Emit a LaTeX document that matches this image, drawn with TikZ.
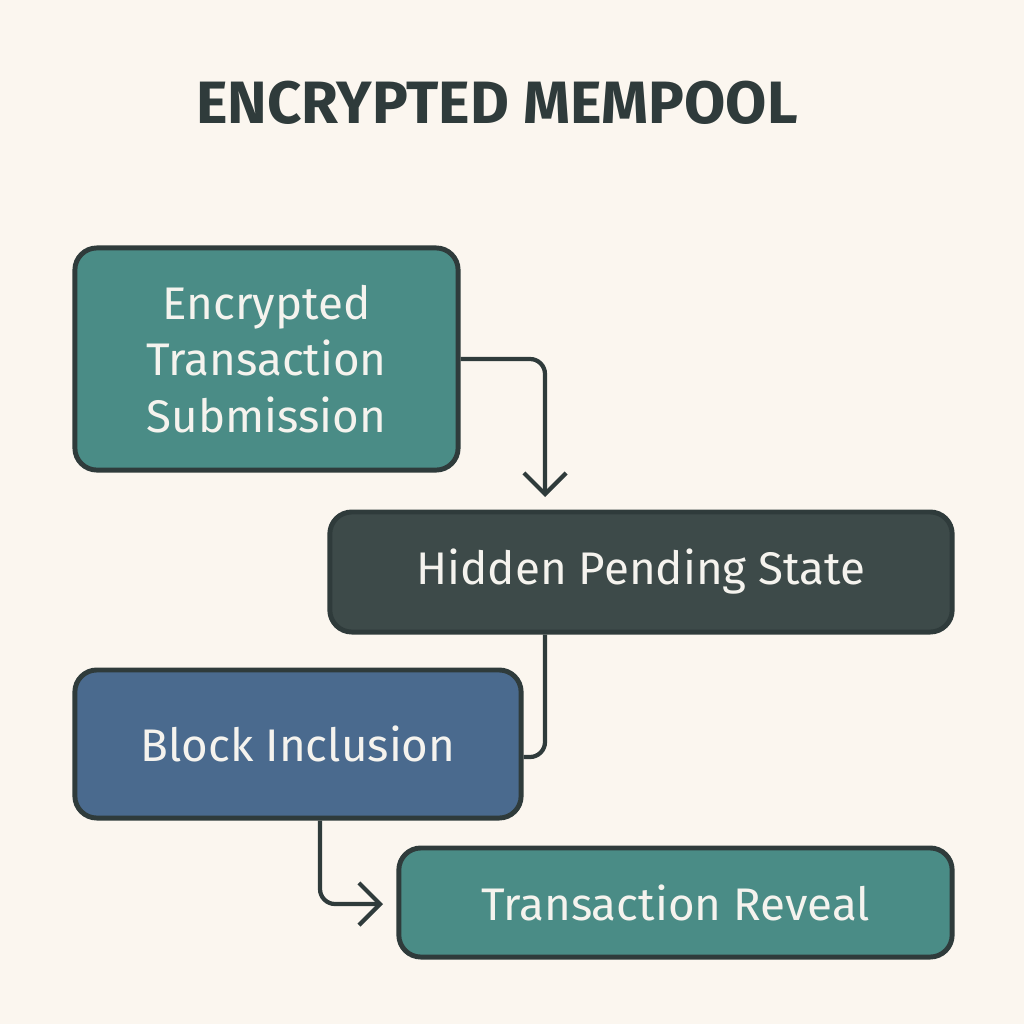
\documentclass[tikz,border=0pt]{standalone}
\usepackage{fontspec}
\setmainfont{Fira Sans}
\usetikzlibrary{arrows.meta}
\definecolor{bg}{HTML}{FBF6EF}
\definecolor{ink}{HTML}{2F3B3B}
\definecolor{teal}{HTML}{4A8C86}
\definecolor{dark}{HTML}{3D4A49}
\definecolor{blu}{HTML}{4A6A8E}
\definecolor{txt}{HTML}{F5F3EE}
\begin{document}
\begin{tikzpicture}[x=0.01cm,y=-0.01cm,
  box/.style={draw=ink,line width=1.4pt,rounded corners=0.22cm,text=txt,font=\fontsize{13}{16}\selectfont,align=center,inner sep=0pt},
  conn/.style={draw=ink,line width=1.2pt,rounded corners=0.15cm},
  tip/.style={-{Straight Barb[length=6pt,width=12pt,line width=1.2pt]}}]
\fill[bg] (0,0) rectangle (1024,1024);
\useasboundingbox (0,0) rectangle (1024,1024);
\node[font=\fontsize{17}{20}\selectfont\bfseries,text=ink] (title) at (497,103) {ENCRYPTED MEMPOOL};
\node[box,fill=teal,minimum width=3.83cm,minimum height=2.22cm] (b1) at (266.5,359) {Encrypted\\Transaction\\Submission};
\node[box,fill=dark,minimum width=6.22cm,minimum height=1.2cm] (b2) at (641,572) {Hidden Pending State};
\node[box,fill=blu,minimum width=4.46cm,minimum height=1.48cm] (b3) at (298,744) {Block Inclusion};
\node[box,fill=teal,minimum width=5.53cm,minimum height=1.09cm] (b4) at (675.5,902.5) {Transaction Reveal};
\coordinate (a1) at (545,497);
\coordinate (a2) at (383,904);
\draw[conn,tip] (b1.east |- 0,359) -- (545,359) -- (a1);
\draw[conn] (b2.south -| 545,0) -- (545,757) -- (b3.east |- 0,757);
\draw[conn,tip] (b3.south -| 320,0) -- (320,904) -- (a2);
\end{tikzpicture}
\end{document}
